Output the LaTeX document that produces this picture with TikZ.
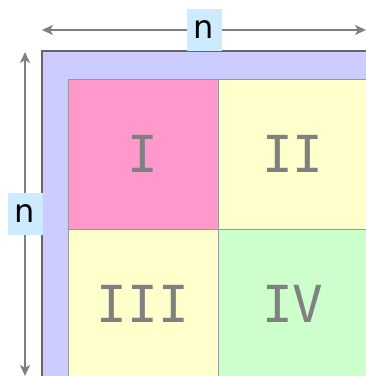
\documentclass[tikz,border=0pt]{standalone}
\usepackage{fontspec}
\setmainfont{DejaVu Sans}
\newfontfamily\numfont{DejaVu Sans Mono}
\usetikzlibrary{arrows.meta,positioning}
\definecolor{frameblue}{HTML}{CCCCFF}
\definecolor{framegray}{HTML}{666666}
\definecolor{cellline}{HTML}{999999}
\definecolor{cellpink}{HTML}{FF99CC}
\definecolor{cellyellow}{HTML}{FFFFCC}
\definecolor{cellgreen}{HTML}{CCFFCC}
\definecolor{numgray}{HTML}{808080}
\definecolor{arrowgray}{HTML}{808078}
\definecolor{labelblue}{HTML}{CCEBFF}
\begin{document}
\begin{tikzpicture}[
    x=1pt, y=-1pt,
    cell/.style={
        rectangle,
        minimum width=150pt,
        minimum height=150pt,
        inner sep=0pt,
        outer sep=0pt,
        draw=cellline,
        text=numgray,
        font=\numfont\fontsize{51}{51}\selectfont
    },
    dim/.style={
        draw=arrowgray,
        line width=1.6pt,
        {Stealth[length=11pt,width=10pt,inset=3pt]}-{Stealth[length=11pt,width=10pt,inset=3pt]}
    },
    dimlabel/.style={
        rectangle,
        fill=labelblue,
        minimum width=35pt,
        minimum height=42pt,
        inner sep=0pt,
        font=\fontsize{32}{32}\selectfont
    }
]
\useasboundingbox (0,0) rectangle (366,376);
\clip (0,0) rectangle (366,376);

% outer frame
\filldraw[fill=frameblue, draw=framegray, line width=1.2pt] (42,51) rectangle (430,440);

% quadrants
\node[cell, fill=cellpink, anchor=north west] (q1) at (68,79) {I};
\node[cell, fill=cellyellow, right=0pt of q1] (q2) {II};
\node[cell, fill=cellyellow, below=0pt of q1] (q3) {III};
\node[cell, fill=cellgreen, right=0pt of q3] (q4) {IV};

% dimensions
\coordinate (wleft) at (42,30);
\coordinate (wright) at (366,30);
\coordinate (htop) at (25,52);
\coordinate (hbot) at (25,376);
\draw[dim] (wleft) -- node[dimlabel] (wlab) {n} (wright);
\draw[dim] (htop) -- node[dimlabel] (hlab) {n} (hbot);

\end{tikzpicture}
\end{document}
